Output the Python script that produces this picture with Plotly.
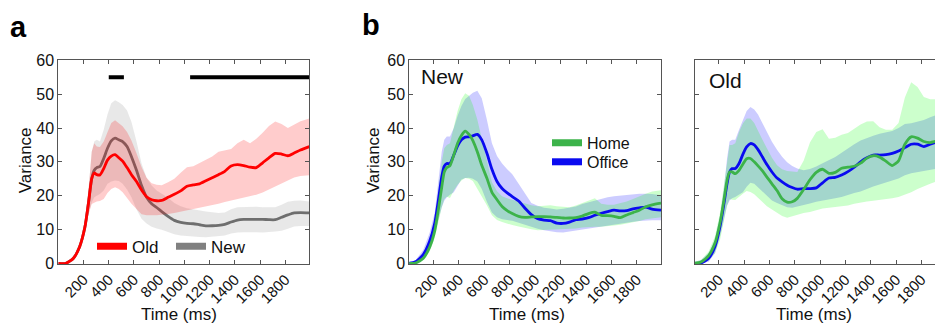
import plotly.graph_objects as go

# ---------------- data ----------------
T = [0, 60, 120, 170, 210, 240, 265, 285, 305, 330, 360, 390, 420, 450, 480, 510, 545, 580,
     620, 660, 700, 740, 780, 820, 870, 920, 970, 1020, 1070, 1120, 1170, 1220, 1270, 1320,
     1370, 1420, 1470, 1520, 1570, 1620, 1670, 1720, 1770, 1820, 1870, 1920, 1990]

# Panel a
a_old_mean = [0, 0, 1.5, 5, 10.5, 18, 25, 26.7, 26.2, 26.1, 28, 30.5, 31.7, 32.1, 31.2, 30.2, 28.3, 26.2,
              24.2, 21.7, 19.7, 18.8, 18.5, 18.6, 19.5, 20.4, 21.4, 22.8, 23.2, 23.5, 24.4, 25.3, 26.2, 27.2,
              28.8, 29.2, 28.9, 28.4, 28.3, 29.7, 31.2, 32.5, 32.3, 31.8, 32.6, 33.5, 34.5]
a_old_upper = [0.1, 0.1, 1.8, 6, 12.5, 22, 33, 35.5, 34.5, 34.4, 36, 39, 41.5, 42.3, 41.5, 40.5, 38.8, 36.3,
               32.5, 28.5, 25.3, 23.7, 23.2, 23.1, 24, 25, 26.8, 28.4, 28.7, 29.6, 30.5, 31.6, 33, 33.4,
               33.8, 35.5, 36.5, 35.5, 36.8, 38.6, 40.6, 41.9, 41.2, 40, 40.9, 42, 42.8]
a_old_lower = [0, 0, 1.0, 4, 9, 14.5, 17.5, 18, 18.3, 18.4, 19, 20.8, 22, 22.5, 22, 21, 19.3, 17.6,
               15.9, 14.5, 14.2, 14.2, 14.2, 14.3, 14.6, 14.9, 15.2, 15.5, 15.9, 16.3, 16.7, 17.2, 17.6, 18.1,
               18.5, 19, 19.4, 19.9, 20.3, 20.9, 21.7, 22.6, 23.6, 24.5, 25.4, 25.8, 26]
a_new_mean = [0, 0, 1.5, 5, 10.5, 18, 25, 27.5, 28.3, 28.6, 31, 34, 36.2, 37, 36.5, 36, 34.5, 31.5,
              27.5, 23, 19.5, 17.6, 16.5, 15.3, 13.9, 12.7, 12.1, 11.8, 11.7, 11.4, 11.1, 11.1, 11.2, 11.5,
              12.2, 12.8, 13, 13, 13, 13, 12.9, 12.9, 13.6, 14.3, 14.9, 15, 14.9]
a_new_upper = [0.1, 0.1, 1.8, 6, 12.5, 22, 33, 36, 36.5, 36, 39.5, 44, 47.3, 48.2, 47.6, 46.8, 45.2, 41.8,
               36, 29.5, 25.3, 23, 21.5, 20.6, 19.4, 17.8, 16.9, 16.3, 15.9, 15.5, 15.3, 15.1, 14.9, 15,
               16, 16.6, 16.7, 16.8, 16.7, 16.6, 16.6, 16.6, 17.3, 18.2, 18.5, 18.6, 18.3]
a_new_lower = [0, 0, 1.0, 4, 9, 14.5, 18, 19.5, 20, 20.5, 21.5, 23.5, 24.2, 24.5, 24.3, 23.5, 21.8, 19.5,
               16, 13.2, 11.8, 10.8, 10.3, 9.9, 9.3, 8.6, 8.2, 8, 7.9, 7.8, 7.7, 7.8, 8, 8.2,
               8.8, 9.1, 9.2, 9.3, 9.2, 9.1, 9.2, 9.4, 9.6, 10.2, 10.9, 11, 11]
sig_start = [400, 1045]
sig_end = [520, 1990]
sig_level = 55

# Panel b (New)
b_home_mean = [0, 0.1, 1.5, 4.8, 9.6, 16.2, 22.5, 27, 28.3, 28.9, 32, 35.5, 37.8, 39.1, 38.1, 36.3, 33, 29,
               25.2, 21, 18.8, 16.8, 15.6, 14.7, 13.9, 13.6, 13.7, 13.8, 13.8, 13.7, 13.6, 13.4, 13.4, 13.5,
               14, 14.7, 15.1, 14.2, 14.1, 13.9, 13.5, 14.3, 15, 15.7, 16.7, 17.3, 17.8]
b_office_mean = [0, 0.5, 2.6, 6.5, 11.8, 19, 25.5, 28.7, 29.5, 29.5, 32, 34.7, 36.5, 37.3, 37.4, 37.7, 38.1, 36.5,
                 32.6, 27.8, 24.2, 22.1, 20.8, 19.7, 18.4, 16.3, 14.4, 13.2, 12.8, 12.6, 11.9, 11.8, 12.2, 12.9,
                 13.1, 13.5, 14.2, 14.8, 15.3, 15.7, 15.5, 15.6, 16.1, 16.4, 16.6, 16, 15.7]
b_home_upper = [0.1, 0.3, 2, 6, 12, 21, 30, 34, 35, 35.5, 40, 45, 48.5, 50.3, 49.5, 46.8, 42.5, 37,
                30, 24, 21.3, 19.8, 19.2, 18.8, 18.2, 17.6, 17.2, 16.9, 17.1, 17.2, 16.9, 16.8, 16.6, 17.1,
                17.8, 18.4, 19.2, 17.6, 17.3, 17.3, 17.7, 18.3, 19, 19.9, 20.6, 21.2, 21.6]
b_home_lower = [0, 0, 1, 3.5, 7.5, 12, 16.5, 19, 19.7, 19.3, 21.5, 23.2, 24.5, 25.2, 25, 24.3, 22.2, 19.8,
                17.2, 14.2, 12.8, 12.2, 11.7, 11.3, 10.9, 10.6, 10.1, 9.8, 9.8, 9.8, 10, 10.1, 10.2, 10.3,
                10.6, 10.8, 10.8, 10.8, 10.9, 11.2, 11.4, 11.7, 12.1, 12.5, 13, 13.3, 13.6]
b_office_upper = [0.2, 1, 4, 9, 15, 24, 33, 36.5, 37.5, 37.5, 40, 43.6, 46.5, 48.6, 49.6, 50.4, 51, 48.8,
                  42.5, 35.5, 31.7, 29.5, 27.8, 26.3, 23.5, 20.5, 17.8, 17, 16.4, 16.2, 15.9, 16.1, 16.4, 16.8,
                  17.5, 18, 18.6, 19.1, 19.5, 19.8, 20, 20.2, 20.5, 20.6, 20.6, 20.5, 20.1]
b_office_lower = [0, 0.1, 1.3, 4, 8.5, 13, 16.5, 18.5, 19.5, 20.3, 21, 22.8, 24.8, 25.2, 25.3, 25, 24.2, 22,
                  18.2, 15, 13.6, 13, 12.8, 12.6, 12.2, 11.6, 10.8, 10.2, 9.8, 9.4, 9.2, 9.1, 9.3, 9.8,
                  10, 10.3, 10.7, 11, 11.3, 11.6, 11.8, 12, 12.3, 12.5, 12.7, 12.7, 12.7]

# Panel c (Old)
c_home_mean = [0, 0.4, 2.3, 6, 12, 18.5, 24.5, 27, 27, 26.5, 27.5, 29.3, 30.9, 31, 30, 28.8, 27.3, 25.5,
               23.5, 21.5, 19.1, 18.1, 18.2, 19.2, 21.8, 24.7, 26.9, 27.8, 26.6, 26.9, 28.1, 28.4, 28.7, 29.6,
               31.1, 31.8, 31.4, 30.2, 28.9, 30.3, 35.2, 37.4, 37, 36, 35.7, 36.1, 36.5]
c_office_mean = [0, 0.1, 1.5, 5, 11, 17.5, 23.5, 27, 28, 28, 29.5, 32.2, 34.4, 35.4, 35, 33.6, 31.4, 29.2,
                 27, 25.2, 24.1, 23.1, 22.4, 21.9, 22.1, 22.1, 22.3, 23.8, 25.2, 25.4, 26.1, 27.1, 28.4, 30,
                 31.2, 32, 32, 32.1, 32.5, 33.2, 34.2, 35.2, 35.2, 34.5, 35.2, 35.8, 36.4]
c_home_upper = [0.3, 1, 3.5, 8, 15, 23, 31, 35, 35, 35.5, 38.8, 41.3, 42.8, 42.8, 41.5, 39, 36.5, 34,
                31.2, 29, 27.8, 27.3, 27.1, 27, 30.3, 35.7, 38.8, 39.6, 36.8, 37.1, 38, 38.5, 39.8, 41,
                41.9, 42, 40.2, 39.5, 39.5, 41.5, 49, 53.5, 52.1, 49.2, 48.5, 48.5, 48.5]
c_home_lower = [0, 0, 0.8, 3, 7, 12, 17, 19, 18.8, 18.7, 19.6, 20.6, 21.4, 21.1, 20.4, 19.3, 18.1, 16.9,
                15.9, 14.9, 14, 13.5, 13.9, 14.3, 14.9, 15.2, 15.6, 16.2, 16.4, 16.5, 16.8, 17.1, 17.6, 18,
                18.3, 18.5, 18.7, 18.9, 19.2, 19.6, 20.2, 21, 22, 22.8, 23.5, 24.2, 24.6]
c_office_upper = [0.3, 1, 3, 7, 14, 22, 31, 36, 36.5, 36.5, 39.5, 42.5, 45, 46.2, 45.5, 44, 41.3, 38.5,
                  35.9, 33.6, 31.5, 29.9, 28.8, 28, 27.5, 27.9, 28.6, 29.6, 30.4, 31.4, 32.7, 34, 35.2, 36.3,
                  37.1, 37.7, 38.3, 38.8, 39.1, 40, 41.2, 41.4, 41.8, 42.4, 43.2, 43.9, 44.5]
c_office_lower = [0, 0, 0.5, 3, 8, 13, 17, 18.6, 19.2, 19.6, 20.2, 21, 22.6, 23.8, 23.5, 22.7, 21.4, 20,
                  18.6, 17.8, 17.1, 16.6, 16.4, 16.8, 17.2, 17.7, 18.2, 18.7, 18.9, 19.2, 19.6, 20.1, 20.8, 21.2,
                  22, 22.7, 23.3, 23.8, 24.5, 25.1, 26, 26.6, 27, 27.4, 27.7, 28, 28.3]

x_ticks = [200, 400, 600, 800, 1000, 1200, 1400, 1600, 1800]
y_ticks = [0, 10, 20, 30, 40, 50, 60]

# ---------------- styling ----------------
FONT = "Liberation Sans, Arial, sans-serif"
RED, GRAY = "#ff0000", "#6e6e6e"
GREEN, BLUE = "#3cb34a", "#0a0af0"
RED_F, GRAY_F = "rgba(255,0,0,0.2)", "rgba(150,150,150,0.22)"
GREEN_F, BLUE_F = "rgba(0,255,0,0.2)", "rgba(0,0,255,0.2)"

fig = go.Figure()


def band(xa, ya, upper, lower, color):
    fig.add_trace(go.Scatter(x=T + T[::-1], y=upper + lower[::-1], fill="toself",
                             fillcolor=color, line=dict(width=0), mode="lines",
                             xaxis=xa, yaxis=ya, showlegend=False, hoverinfo="skip"))


def mean(xa, ya, y, color):
    fig.add_trace(go.Scatter(x=T, y=y, mode="lines", line=dict(color=color, width=2.8, shape="spline", smoothing=0.6),
                             xaxis=xa, yaxis=ya, showlegend=False))


# panel a: gray first, then red on top
band("x", "y", a_new_upper, a_new_lower, GRAY_F)
mean("x", "y", a_new_mean, GRAY)
band("x", "y", a_old_upper, a_old_lower, RED_F)
mean("x", "y", a_old_mean, RED)
sig_x, sig_y = [], []
for s, e in zip(sig_start, sig_end):
    sig_x += [s, e, None]
    sig_y += [sig_level, sig_level, None]
fig.add_trace(go.Scatter(x=sig_x, y=sig_y, mode="lines", line=dict(color="black", width=4),
                         xaxis="x", yaxis="y", showlegend=False))

# panel b
band("x2", "y2", b_office_upper, b_office_lower, BLUE_F)
band("x2", "y2", b_home_upper, b_home_lower, GREEN_F)
mean("x2", "y2", b_office_mean, BLUE)
mean("x2", "y2", b_home_mean, GREEN)

# panel c
band("x3", "y3", c_office_upper, c_office_lower, BLUE_F)
band("x3", "y3", c_home_upper, c_home_lower, GREEN_F)
mean("x3", "y3", c_office_mean, BLUE)
mean("x3", "y3", c_home_mean, GREEN)

# legend entries (each in its own legend box)
for name, color, lg, xa, ya in [("Old", RED, "legend", "x", "y"), ("New", "#808080", "legend2", "x", "y"),
                                ("Home", GREEN, "legend3", "x2", "y2"), ("Office", BLUE, "legend4", "x2", "y2")]:
    fig.add_trace(go.Scatter(x=[None], y=[None], mode="lines", name=name, line=dict(color=color, width=7),
                             xaxis=xa, yaxis=ya, legend=lg, showlegend=True))

W, H = 935, 331
Y_DOM = [1 - 269 / H, 1 - 55 / H]
AX = "#555555"

def xaxis(domain, rng, anchor):
    return dict(domain=domain, range=rng, anchor=anchor, tickvals=x_ticks, ticks="inside", ticklen=4,
                tickcolor=AX, showline=True, linecolor=AX, linewidth=1, mirror="ticks", tickangle=-45,
                tickfont=dict(size=15, color="#111"), showgrid=False, zeroline=False, fixedrange=True)

def yaxis(anchor, labels=True, mirror="ticks"):
    return dict(domain=Y_DOM, range=[-0.2, 60], anchor=anchor, tickvals=y_ticks, ticks="inside", ticklen=4,
                tickcolor=AX, showline=True, linecolor=AX, linewidth=1, mirror=mirror,
                showticklabels=labels, tickfont=dict(size=16, color="#111"), showgrid=False, zeroline=False,
                fixedrange=True)

def leg(x, y, size=17):
    return dict(x=x / W, y=1 - y / H, xanchor="left", yanchor="middle", bgcolor="rgba(0,0,0,0)",
                borderwidth=0, font=dict(size=size, color="#111"), orientation="v", itemclick=False)

def txt(s, x, y, size, bold=False, angle=0, xanchor="center"):
    return dict(text=f"<b>{s}</b>" if bold else s, x=x / W, y=1 - y / H, xref="paper", yref="paper",
                showarrow=False, font=dict(size=size, color="#111" if not bold else "black"),
                textangle=angle, xanchor=xanchor, yanchor="middle")

fig.update_layout(
    width=W, height=H, margin=dict(l=0, r=0, t=0, b=0), plot_bgcolor="white", paper_bgcolor="white",
    font=dict(family=FONT, color="#111"),
    xaxis=xaxis([58.3 / W, 309.3 / W], [0, 1990], "y"),
    yaxis=yaxis("x"),
    xaxis2=xaxis([409.3 / W, 661 / W], [10, 1990], "y2"),
    yaxis2=yaxis("x2"),
    xaxis3=xaxis([695 / W, 1.0], [12, 1908], "y3"),
    yaxis3=yaxis("x3", labels=False, mirror=False),
    legend=leg(92, 250.7), legend2=leg(171, 250.7),
    legend3=leg(547, 141.7, 16), legend4=leg(547, 161.7, 16),
    annotations=[
        txt("a", 18, 20, 29, bold=True), txt("b", 371, 18, 29, bold=True),
        txt("Variance", 25, 160, 17, angle=-90), txt("Variance", 373, 160, 17, angle=-90),
        txt("Time (ms)", 179, 322, 17), txt("Time (ms)", 527, 322, 17), txt("Time (ms)", 814, 322, 17),
        txt("New", 419, 72, 21, xanchor="left"), txt("Old", 707, 76, 21, xanchor="left"),
    ],
    showlegend=True,
)

fig.write_html("out.html")
